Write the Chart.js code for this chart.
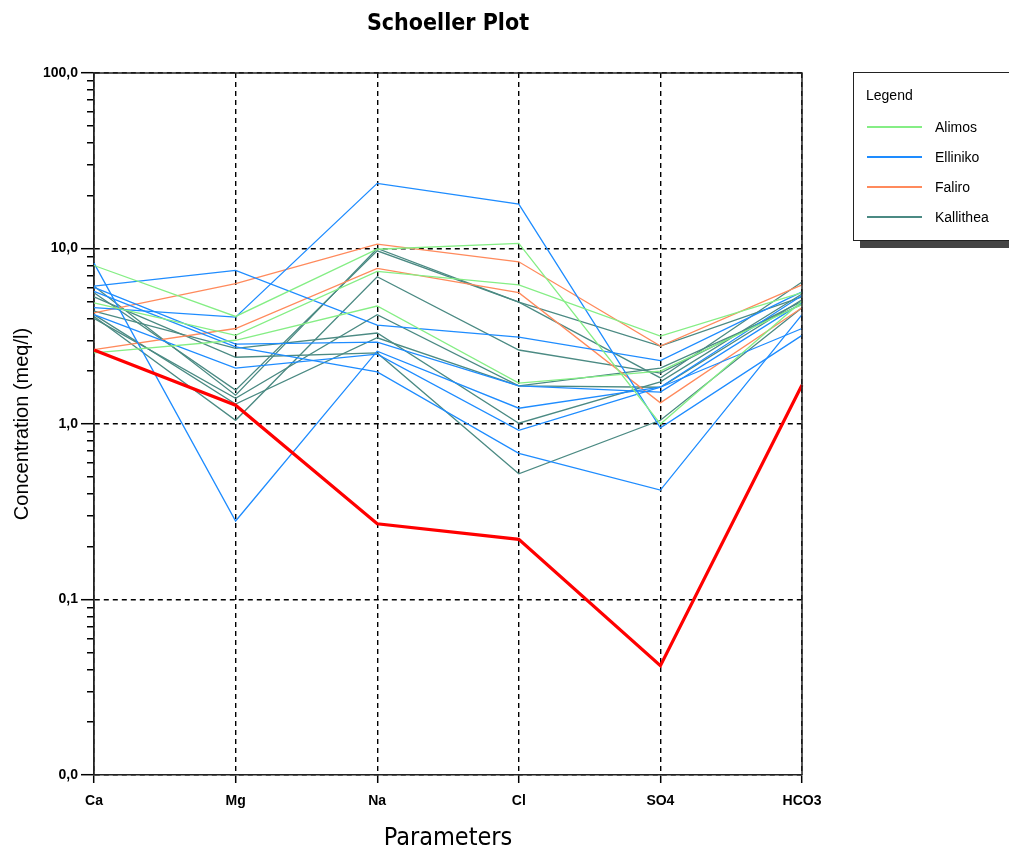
<!DOCTYPE html>
<html>
<head>
<meta charset="utf-8">
<script src="https://cdn.jsdelivr.net/npm/chart.js@4.4.1/dist/chart.umd.min.js"></script>
<style>
html,body{margin:0;padding:0;background:#fff;width:1009px;height:847px;overflow:hidden;}
#wrap{position:absolute;left:0;top:0;width:896px;height:847px;}
#legend{position:absolute;left:853px;top:72px;width:170px;height:167px;border:1px solid #222;background:#fff;box-shadow:7px 7px 0 #444;font-family:'Liberation Sans',Arial,sans-serif;font-size:14px;color:#000;}
#legend .ttl{position:absolute;left:12px;top:14px;line-height:16px;font-size:14px;}
#legend .ln{position:absolute;left:13px;width:55px;height:2px;}
#legend .lb{position:absolute;left:81px;line-height:16px;}
</style>
</head>
<body>
<div id="wrap"><canvas id="c" width="896" height="847"></canvas></div>
<div id="legend"></div>
<script>
// ---- data ----
const categories = ['Ca', 'Mg', 'Na', 'Cl', 'SO4', 'HCO3'];
const groupNames = ['Alimos', 'Elliniko', 'Faliro', 'Kallithea'];
const groupColors = ['#85ee85', '#1e8cff', '#ff8a5c', '#4b8a83'];

const alimos1 = [8.0, 4.1, 9.9, 10.7, 1.0, 5.0];
const alimos2 = [4.9, 3.2, 7.4, 6.2, 3.17, 5.6];
const alimos3 = [2.54, 3.0, 4.7, 1.71, 2.0, 4.8];

const elliniko1 = [8.25, 0.28, 2.6, 1.23, 1.62, 5.4];
const elliniko2 = [6.1, 7.5, 3.66, 3.13, 2.3, 5.66];
const elliniko3 = [4.6, 4.06, 23.5, 17.9, 0.95, 3.2];
const elliniko4 = [6.0, 2.85, 2.93, 1.65, 1.52, 4.9];
const elliniko5 = [4.2, 2.08, 2.5, 0.92, 1.62, 3.5];
const elliniko6 = [5.7, 2.75, 1.98, 0.68, 0.42, 4.2];

const faliro1 = [4.3, 6.3, 10.6, 8.4, 2.78, 6.2];
const faliro2 = [2.65, 3.5, 7.7, 5.6, 1.32, 4.6];

const kallithea1 = [6.1, 1.46, 10.0, 4.95, 1.83, 6.45];
const kallithea2 = [5.6, 1.56, 9.7, 4.95, 2.78, 5.3];
const kallithea3 = [4.1, 1.05, 6.9, 2.64, 1.95, 5.0];
const kallithea4 = [4.0, 1.4, 4.2, 1.65, 2.08, 4.8];
const kallithea5 = [4.4, 2.7, 3.3, 1.01, 1.74, 5.5];
const kallithea6 = [5.3, 2.4, 2.54, 0.52, 1.05, 4.6];
const kallithea7 = [4.2, 1.3, 3.1, 1.65, 1.62, 5.1];

const referenceSample = [2.64, 1.28, 0.27, 0.22, 0.042, 1.67];

const yTickValues = [0.01,0.02,0.03,0.04,0.05,0.06,0.07,0.08,0.09,
  0.1,0.2,0.3,0.4,0.5,0.6,0.7,0.8,0.9,
  1,2,3,4,5,6,7,8,9,
  10,20,30,40,50,60,70,80,90,100];
const decadeValues = [0.01, 0.1, 1, 10, 100];
const decadeLabels = ['0,0', '0,1', '1,0', '10,0', '100,0'];

// ---- datasets ----
const groups = [
  [alimos1, alimos2, alimos3],
  [elliniko1, elliniko2, elliniko3, elliniko4, elliniko5, elliniko6],
  [faliro1, faliro2],
  [kallithea1, kallithea2, kallithea3, kallithea4, kallithea5, kallithea6, kallithea7]
];
const datasets = [];
datasets.push({label: 'Reference', data: referenceSample, borderColor: '#ff0000', borderWidth: 3.2, order: 0});
groups.forEach((g, gi) => {
  g.forEach(arr => {
    datasets.push({label: groupNames[gi], data: arr, borderColor: groupColors[gi], borderWidth: 1.3, order: 1});
  });
});

function isDecade(v) {
  return decadeValues.some(d => Math.abs(d - v) < d * 1e-6);
}
function decadeLabel(v) {
  for (let i = 0; i < decadeValues.length; i++) {
    if (Math.abs(decadeValues[i] - v) < decadeValues[i] * 1e-6) return decadeLabels[i];
  }
  return '';
}

const framePlugin = {
  id: 'frame',
  afterDraw(chart) {
    const {ctx, chartArea: a} = chart;
    ctx.save();
    ctx.strokeStyle = '#222';
    ctx.lineWidth = 1.5;
    ctx.beginPath();
    ctx.moveTo(a.left, a.top);
    ctx.lineTo(a.right, a.top);
    ctx.lineTo(a.right, a.bottom);
    ctx.stroke();
    ctx.restore();
  }
};

new Chart(document.getElementById('c'), {
  type: 'line',
  data: {labels: categories, datasets},
  plugins: [framePlugin],
  options: {
    responsive: false,
    animation: false,
    layout: {padding: 0},
    elements: {point: {radius: 0}, line: {tension: 0, fill: false}},
    plugins: {
      legend: {display: false},
      tooltip: {enabled: false},
      title: {
        display: true,
        text: 'Schoeller Plot',
        color: '#000',
        font: {family: "'DejaVu Sans Condensed', 'DejaVu Sans', sans-serif", size: 23, weight: 'bold', lineHeight: 1.2},
        padding: {top: 10, bottom: 35.4}
      }
    },
    scales: {
      x: {
        type: 'category',
        offset: false,
        grid: {offset: false, color: '#000', lineWidth: 1.4, tickColor: '#000', tickLength: 8, tickWidth: 1.5, drawTicks: true},
        border: {display: true, color: '#222', width: 1.5, dash: [5, 4]},
        ticks: {color: '#000', padding: 10, autoSkip: false, maxRotation: 0,
          font: {family: "'Liberation Sans', Arial, sans-serif", size: 14, weight: 'bold'}},
        title: {display: true, text: 'Parameters', color: '#000',
          font: {family: "'DejaVu Sans Condensed', 'Liberation Sans', sans-serif", size: 25, lineHeight: '18px'},
          padding: {top: 0, bottom: 0}},
        afterFit: s => { s.height = 72; }
      },
      y: {
        type: 'logarithmic',
        min: 0.01,
        max: 100,
        afterBuildTicks: s => { s.ticks = yTickValues.map(v => ({value: v})); },
        grid: {
          color: c => (c.tick && isDecade(c.tick.value)) ? '#000' : 'rgba(0,0,0,0)',
          tickBorderDash: c => (c.tick && isDecade(c.tick.value)) ? [] : [0, 6, 7, 50],
          tickColor: '#000', lineWidth: 1.4, tickLength: 13, tickWidth: 1.5
        },
        border: {display: true, color: '#222', width: 1.8, dash: [5, 4]},
        ticks: {color: '#000', padding: 3, autoSkip: false,
          callback: v => decadeLabel(v),
          font: {family: "'Liberation Sans', Arial, sans-serif", size: 14, weight: 'bold'}},
        title: {display: true, text: 'Concentration (meq/l)', color: '#000',
          font: {family: "'Liberation Sans', Arial, sans-serif", size: 20, lineHeight: 1.2},
          padding: {top: 10, bottom: 0}},
        afterFit: s => { s.width = 94; }
      },
      yRight: {
        type: 'linear',
        position: 'right',
        display: true,
        grid: {drawOnChartArea: false, drawTicks: false},
        border: {display: false},
        ticks: {display: false},
        afterFit: s => { s.width = 94; }
      }
    }
  }
});

// ---- HTML legend ----
const lg = document.getElementById('legend');
const t = document.createElement('div');
t.className = 'ttl'; t.textContent = 'Legend';
lg.appendChild(t);
groupNames.forEach((n, i) => {
  const cy = 54 + 30 * i;
  const ln = document.createElement('div');
  ln.className = 'ln'; ln.style.top = (cy - 1) + 'px'; ln.style.background = groupColors[i];
  const lb = document.createElement('div');
  lb.className = 'lb'; lb.style.top = (cy - 8) + 'px'; lb.textContent = n;
  lg.appendChild(ln); lg.appendChild(lb);
});
</script>
</body>
</html>
